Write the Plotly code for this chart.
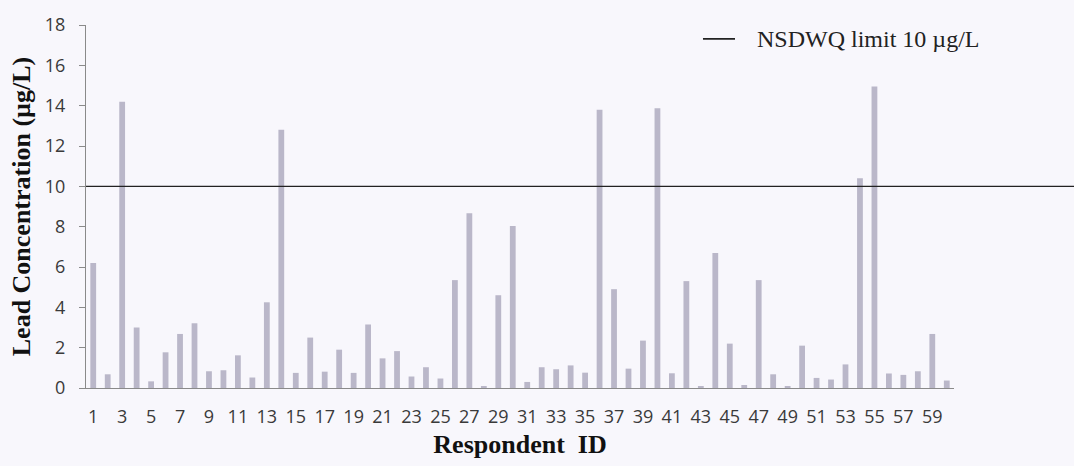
import plotly.graph_objects as go

# Respondent IDs and measured lead concentrations (µg/L)
respondent_ids = list(range(1, 61))
lead_conc = [
    6.2, 0.68, 14.2, 3.0, 0.33, 1.77, 2.68, 3.21, 0.83, 0.88,
    1.62, 0.52, 4.25, 12.8, 0.75, 2.5, 0.81, 1.9, 0.75, 3.15,
    1.47, 1.83, 0.57, 1.03, 0.47, 5.35, 8.66, 0.05, 4.6, 8.03,
    0.3, 1.03, 0.93, 1.12, 0.76, 13.8, 4.9, 0.96, 2.35, 13.87,
    0.73, 5.3, 0.05, 6.7, 2.2, 0.15, 5.35, 0.68, 0.05, 2.1,
    0.5, 0.42, 1.17, 10.4, 14.95, 0.72, 0.65, 0.83, 2.68, 0.37,
]
limit_value = 10
limit_label = "NSDWQ limit 10 µg/L"
x_tick_vals = list(range(1, 60, 2))
y_tick_vals = list(range(0, 19, 2))

bg = "#f8f7fc"
bar_color = "#bab7c9"
axis_color = "#8a8a8a"
line_color = "#222222"
serif = "Liberation Serif, Times New Roman, serif"
tick_font = dict(family="Open Sans, Liberation Sans, sans-serif", size=18, color="#3a3a3a")
title_font = dict(family=serif, size=26, color="#111111")

fig = go.Figure()

fig.add_trace(go.Bar(
    x=respondent_ids,
    y=lead_conc,
    marker=dict(color=bar_color, line=dict(width=0)),
    width=0.4,
    showlegend=False,
    hoverinfo="x+y",
))

# Guideline line spanning from the y axis to the right edge
fig.add_shape(
    type="line",
    xref="paper", yref="y",
    x0=0, x1=1.14,
    y0=limit_value, y1=limit_value,
    line=dict(color=line_color, width=1.3),
    layer="above",
)

# Key for the guideline: short line sample plus label
key_y = 0.962
fig.add_shape(
    type="line",
    xref="paper", yref="paper",
    x0=0.7108, x1=0.7477,
    y0=key_y, y1=key_y,
    line=dict(color=line_color, width=1.8),
)
fig.add_annotation(
    xref="paper", yref="paper",
    x=0.7707, y=key_y,
    xanchor="left", yanchor="middle",
    text=limit_label,
    showarrow=False,
    font=dict(family=serif, size=24, color=line_color),
)

fig.update_layout(
    width=1074,
    height=466,
    margin=dict(l=86, r=120, t=19, b=77),
    paper_bgcolor=bg,
    plot_bgcolor=bg,
    showlegend=False,
    xaxis=dict(
        range=[0.5, 60.5],
        tickmode="array",
        tickvals=x_tick_vals,
        ticktext=[str(v) for v in x_tick_vals],
        showgrid=False,
        zeroline=False,
        showline=True,
        linecolor=axis_color,
        linewidth=1,
        ticks="",
        ticklabelstandoff=12,
        tickfont=tick_font,
        title=dict(text="<b>Respondent  ID</b>", font=title_font, standoff=8),
    ),
    yaxis=dict(
        range=[0, 18],
        tickmode="array",
        tickvals=y_tick_vals,
        showgrid=False,
        zeroline=False,
        showline=True,
        linecolor=axis_color,
        linewidth=1,
        ticks="outside",
        ticklen=6,
        tickcolor=axis_color,
        ticklabelstandoff=10,
        tickfont=tick_font,
        title=dict(text="<b>Lead Concentration (µg/L)</b>", font=title_font, standoff=6),
    ),
)

fig.write_html("out.html")
